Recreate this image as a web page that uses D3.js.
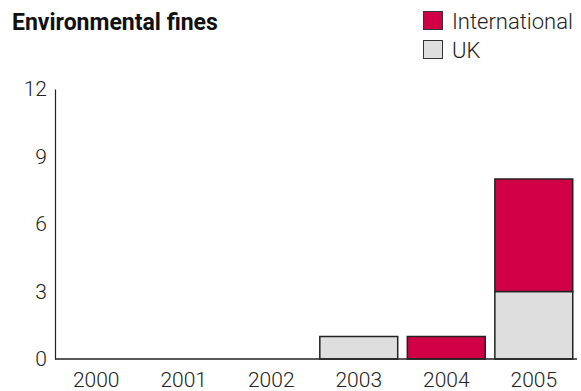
<!DOCTYPE html>
<html>
<head>
<meta charset="utf-8">
<script src="https://cdn.jsdelivr.net/npm/d3@7"></script>
<style>
  html, body { margin: 0; padding: 0; background: #fff; }
  svg { display: block; font-family: Roboto, "Liberation Sans", sans-serif; }
</style>
</head>
<body>
<svg id="chart" width="581" height="391"></svg>
<script>
// Environmental fines by year, split into UK and international cases
const years = ["2000", "2001", "2002", "2003", "2004", "2005"];
const ukFines = [0, 0, 0, 1, 0, 3];
const intlFines = [0, 0, 0, 0, 1, 5];
const yTicks = [0, 3, 6, 9, 12];
const seriesNames = ["UK", "International"];
const seriesColors = ["#dedede", "#d10046"];

const svg = d3.select("#chart");
const axisLeftX = 55;
const axisRightX = 577;

const x = d3.scaleBand().domain(years).range([52, 578]).paddingInner(0.11).paddingOuter(0.06);
const y = d3.scaleLinear().domain([0, 12]).range([359, 89]);

const rows = years.map((yr, i) => ({ year: yr, UK: ukFines[i], International: intlFines[i] }));
const stacked = d3.stack().keys(seriesNames)(rows);
const color = d3.scaleOrdinal().domain(seriesNames).range(seriesColors);

// Title
svg.append("text")
  .attr("x", 12).attr("y", 30)
  .attr("font-size", 23).attr("font-weight", 700)
  .attr("fill", "#111")
  .text("Environmental fines");

// Bars
svg.append("g").selectAll("g")
  .data(stacked).join("g")
  .attr("fill", d => color(d.key))
  .selectAll("rect")
  .data(d => d.filter(p => p[1] - p[0] > 0))
  .join("rect")
  .attr("x", d => x(d.data.year))
  .attr("width", x.bandwidth())
  .attr("y", d => y(d[1]))
  .attr("height", d => y(d[0]) - y(d[1]))
  .attr("stroke", "#222")
  .attr("stroke-width", 1.5);

// Y axis
const yAxis = svg.append("g")
  .attr("transform", `translate(${axisLeftX},0)`)
  .call(d3.axisLeft(y).tickValues(yTicks).tickSize(0).tickPadding(8));
yAxis.select(".domain").attr("stroke", "#222").attr("stroke-width", 1.2);
yAxis.selectAll("text").attr("font-size", 21).attr("fill", "#222").attr("font-family", "Roboto, sans-serif").style("font-weight", 300);

// X axis
const xAxis = svg.append("g")
  .attr("transform", `translate(0,${y(0)})`)
  .call(d3.axisBottom(x).tickSize(0).tickPadding(13));
xAxis.select(".domain").attr("d", `M${axisLeftX},0H${axisRightX}`).attr("stroke", "#222").attr("stroke-width", 1.5);
xAxis.selectAll("text").attr("font-size", 21).attr("fill", "#222").attr("font-family", "Roboto, sans-serif").style("font-weight", 300);

// Legend
const legendItems = [
  { name: "International", color: seriesColors[1] },
  { name: "UK", color: seriesColors[0] }
];
const legend = svg.append("g").attr("transform", "translate(423,11)");
const li = legend.selectAll("g").data(legendItems).join("g")
  .attr("transform", (d, i) => `translate(0,${i * 29})`);
li.append("rect")
  .attr("x", 0.5).attr("y", 0.5)
  .attr("width", 19).attr("height", 18)
  .attr("fill", d => d.color)
  .attr("stroke", "#333").attr("stroke-width", 1);
li.append("text")
  .attr("x", 29).attr("y", 18)
  .attr("font-size", 22).attr("fill", "#222")
  .style("font-weight", 300)
  .text(d => d.name);
</script>
</body>
</html>
